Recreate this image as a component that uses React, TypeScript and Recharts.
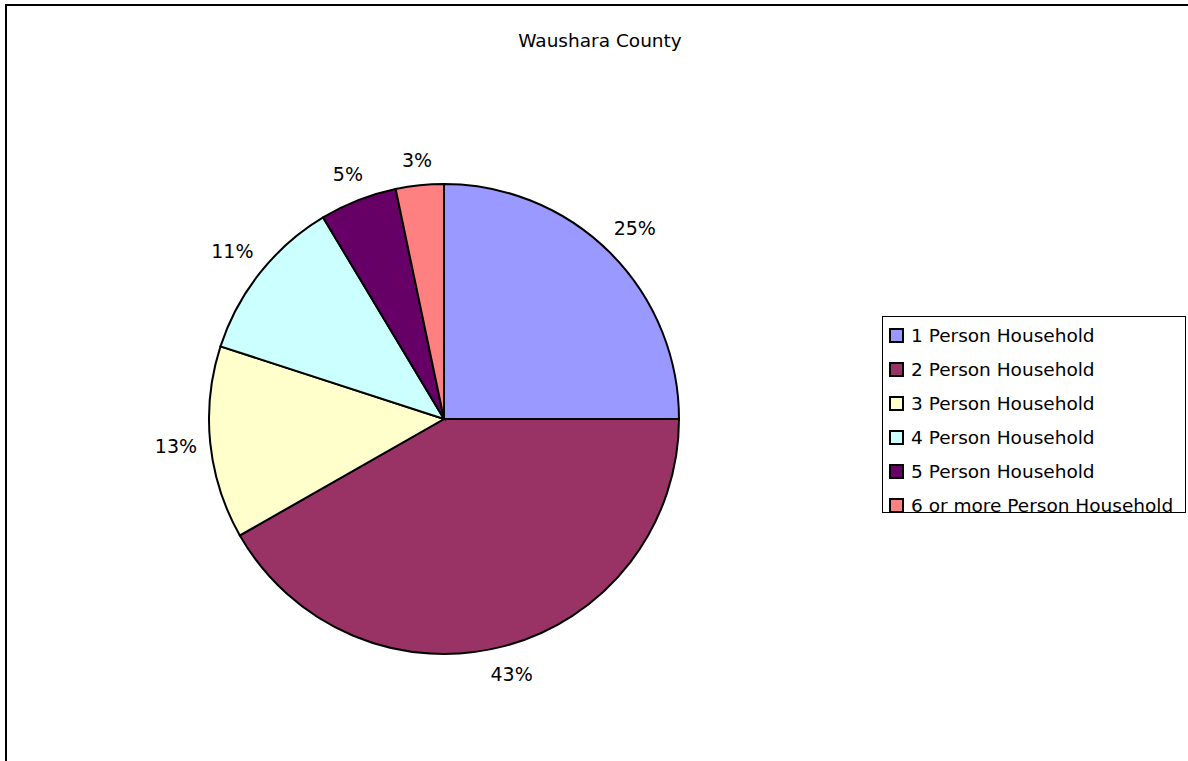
import { PieChart, Pie, Cell, Legend } from 'recharts';

const categories = [
  '1 Person Household',
  '2 Person Household',
  '3 Person Household',
  '4 Person Household',
  '5 Person Household',
  '6 or more Person Household',
];
// shares
const shares = [25, 41.75, 13.25, 11.4, 5.3, 3.3];
const pctLabels = ['25%', '43%', '13%', '11%', '5%', '3%'];
const colors = ['#9999FF', '#993366', '#FFFFCC', '#CCFFFF', '#660066', '#FF8080'];

const data = categories.map((name, i) => ({ name, value: shares[i] }));

const FONT = "Tahoma, 'DejaVu Sans', sans-serif";
const RAD = Math.PI / 180;

// label box sits just outside the rim, like Excel's best-fit labels
function renderLabel(props: any) {
  const { cx, cy, midAngle, outerRadius, index } = props;
  const text = pctLabels[index];
  const halfW = text.length * 6.5;
  const halfH = 10;
  const c = Math.cos(-midAngle * RAD);
  const s = Math.sin(-midAngle * RAD);
  const r = outerRadius + 14 + halfW * Math.abs(c) + halfH * Math.abs(s);
  const x = cx + r * c;
  const y = cy + r * s;
  return (
    <text
      x={x}
      y={y}
      textAnchor="middle"
      dominantBaseline="central"
      fill="#000"
      style={{ fontFamily: FONT, fontSize: 19 }}
    >
      {text}
    </text>
  );
}

function renderLegend() {
  return (
    <div
      style={{
        border: '1px solid #000',
        height: 197,
        boxSizing: 'border-box',
        paddingTop: 1,
        paddingLeft: 6,
        background: '#fff',
      }}
    >
      {categories.map((c, i) => (
        <div key={c} style={{ height: 34, display: 'flex', alignItems: 'center' }}>
          <span
            style={{
              width: 11,
              height: 11,
              border: '2px solid #000',
              background: colors[i],
              display: 'inline-block',
              marginRight: 7,
            }}
          />
          <span style={{ fontFamily: FONT, fontSize: 18.5, color: '#000', whiteSpace: 'nowrap' }}>{c}</span>
        </div>
      ))}
    </div>
  );
}

export default function App() {
  return (
    <div style={{ position: 'absolute', left: 0, top: 0, width: 1188, height: 761, background: '#fff' }}>
      <div
        style={{
          position: 'absolute',
          left: 5,
          top: 4,
          width: 1183,
          height: 757,
          borderTop: '2px solid #000',
          borderLeft: '2px solid #000',
        }}
      />
      <div
        style={{
          position: 'absolute',
          left: 0,
          top: 30,
          width: 1200,
          textAlign: 'center',
          fontFamily: FONT,
          fontSize: 18.5,
          color: '#000',
        }}
      >
        Waushara County
      </div>
      <div style={{ position: 'absolute', left: 0, top: 0 }}>
        <PieChart width={1188} height={761} margin={{ top: 0, right: 0, bottom: 0, left: 0 }}>
          <Pie
            data={data}
            dataKey="value"
            nameKey="name"
            cx={444}
            cy={419}
            outerRadius={235}
            startAngle={90}
            endAngle={-270}
            stroke="#000"
            strokeWidth={2}
            label={renderLabel}
            labelLine={false}
            isAnimationActive={false}
          >
            {data.map((d, i) => (
              <Cell key={d.name} fill={colors[i]} />
            ))}
          </Pie>
          <Legend
            content={renderLegend}
            wrapperStyle={{ left: 882, top: 316, width: 304, height: 197, bottom: 'auto', right: 'auto' }}
          />
        </PieChart>
      </div>
    </div>
  );
}
